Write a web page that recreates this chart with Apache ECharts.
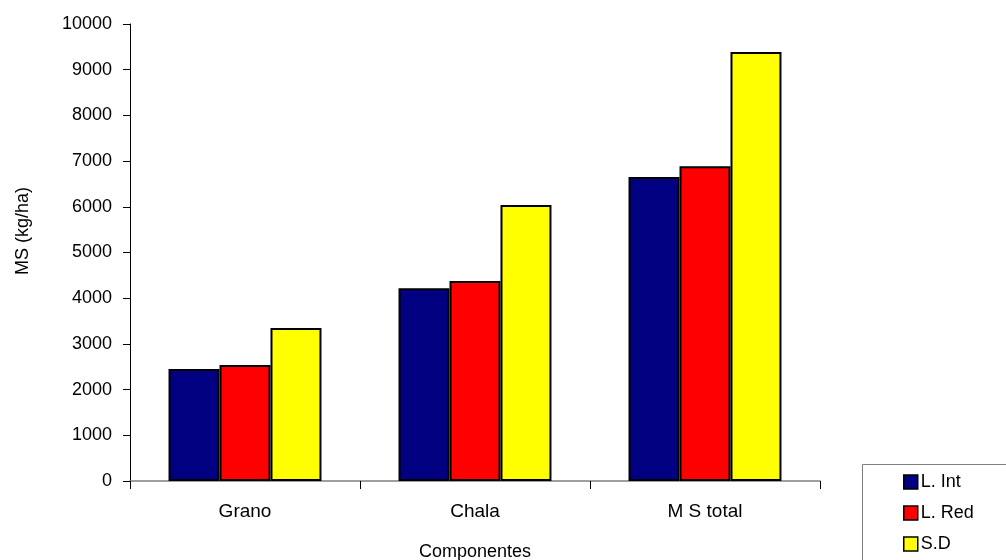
<!DOCTYPE html>
<html><head><meta charset="utf-8">
<script src="https://cdn.jsdelivr.net/npm/echarts@6/dist/echarts.min.js"></script>
<style>html,body{margin:0;padding:0;background:#fff;overflow:hidden}#c{width:1006px;height:560px}</style>
</head><body><div id="c"></div>
<script>
const categories = ["Grano", "Chala", "M S total"];
const seriesNames = ["L. Int", "L. Red", "S.D"];
const lInt = [2450, 4220, 6650];
const lRed = [2540, 4375, 6890];
const sd = [3350, 6040, 9390];
const colors = ["#000080", "#ff0000", "#ffff00"];
const yTicks = {min: 0, max: 10000, interval: 1000};

const chart = echarts.init(document.getElementById('c'));
const font = 'Liberation Sans, Arial, sans-serif';
const data = [lInt, lRed, sd];
chart.setOption({
  animation: false,
  backgroundColor: '#fff',
  grid: {left: 130, width: 690, top: 24, height: 457, outerBoundsMode: 'none', containLabel: false},
  graphic: [
    {type: 'rect', left: 862, top: 464, shape: {width: 160, height: 110},
     style: {fill: '#fff', stroke: '#808080', lineWidth: 1}, z: 1},
    {type: 'text', x: 23, y: 231, rotation: Math.PI / 2,
     style: {text: 'MS (kg/ha)', font: '18px Liberation Sans, Arial, sans-serif', fill: '#000',
             textAlign: 'center', textVerticalAlign: 'middle'}}
  ],
  legend: {
    orient: 'vertical', left: 903, top: 473,
    padding: 0, z: 5,
    itemWidth: 14, itemHeight: 14, itemGap: 13,
    icon: 'rect',
    textStyle: {fontFamily: font, fontSize: 18, color: '#000', padding: [0, 0, 0, -2]},
    data: seriesNames.map((n, i) => ({name: n, itemStyle: {color: colors[i], borderColor: '#000', borderWidth: 1.5}}))
  },
  xAxis: {
    type: 'category', data: categories,
    name: 'Componentes', nameLocation: 'middle', nameGap: 62,
    nameTextStyle: {fontFamily: font, fontSize: 18, color: '#000'},
    axisLine: {lineStyle: {color: '#808080', width: 1.5}},
    axisTick: {show: true, length: 8, lineStyle: {color: '#000'}},
    axisLabel: {fontFamily: font, fontSize: 19, color: '#000', margin: 21}
  },
  yAxis: {
    type: 'value', min: yTicks.min, max: yTicks.max, interval: yTicks.interval,
    axisLine: {show: true, lineStyle: {color: '#000', width: 1}},
    axisTick: {show: true, length: 7, lineStyle: {color: '#000'}},
    splitLine: {show: false},
    axisLabel: {fontFamily: font, fontSize: 18, color: '#000', margin: 18,
                formatter: v => String(v)}
  },
  series: seriesNames.map((n, i) => ({
    name: n, type: 'bar', data: data[i],
    barGap: '0%', barCategoryGap: '33.5%',
    itemStyle: {color: colors[i], borderColor: '#000', borderWidth: 2}
  }))
});
</script></body></html>
